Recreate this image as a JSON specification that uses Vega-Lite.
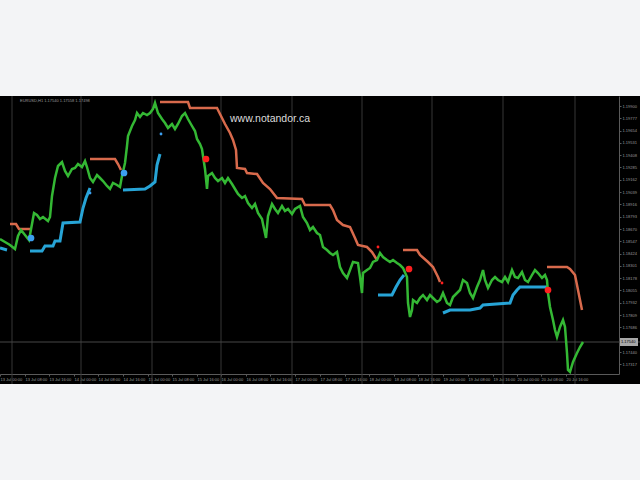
{
  "$schema": "https://vega.github.io/schema/vega-lite/v6.json",
  "autosize": {"type": "none"},
  "width": 640,
  "height": 288,
  "padding": {"left": 0, "top": 96, "right": 0, "bottom": 96},
  "background": "#f3f4f6",
  "view": {"fill": "#000000", "stroke": null},
  "config": {
    "font": "Liberation Sans",
    "axis": {"labelOverlap": false, "labelFlush": false, "labelFontSize": 4, "labelColor": "#9a9a9a", "labelPadding": 1, "domainColor": "#5a5a5a", "tickColor": "#5a5a5a", "tickSize": 2, "grid": false, "title": null}
  },
  "datasets": {
    "close": [
      {"bar":0,"price":1.1857},{"bar":5,"price":1.1854},{"bar":10,"price":1.1851},{"bar":15,"price":1.1847},{"bar":18,"price":1.1860},{"bar":21,"price":1.1866},{"bar":25,"price":1.1861},{"bar":29,"price":1.1856},{"bar":32,"price":1.1872},{"bar":34,"price":1.1883},{"bar":37,"price":1.1881},{"bar":40,"price":1.1877},{"bar":43,"price":1.1879},{"bar":48,"price":1.1875},{"bar":50,"price":1.1879},{"bar":52,"price":1.1900},{"bar":55,"price":1.1918},{"bar":58,"price":1.1930},{"bar":62,"price":1.1934},{"bar":65,"price":1.1925},{"bar":68,"price":1.1920},{"bar":72,"price":1.1927},{"bar":75,"price":1.1928},{"bar":78,"price":1.1932},{"bar":82,"price":1.1929},{"bar":85,"price":1.1935},{"bar":87,"price":1.1929},{"bar":90,"price":1.1918},{"bar":93,"price":1.1914},{"bar":97,"price":1.1921},{"bar":100,"price":1.1918},{"bar":103,"price":1.1915},{"bar":107,"price":1.1910},{"bar":110,"price":1.1907},{"bar":113,"price":1.1913},{"bar":117,"price":1.1911},{"bar":120,"price":1.1909},{"bar":122,"price":1.1920},{"bar":125,"price":1.1933},{"bar":127,"price":1.1950},{"bar":128,"price":1.1960},{"bar":132,"price":1.1970},{"bar":135,"price":1.1976},{"bar":137,"price":1.1983},{"bar":140,"price":1.1979},{"bar":143,"price":1.1983},{"bar":147,"price":1.1981},{"bar":150,"price":1.1983},{"bar":153,"price":1.1987},{"bar":155,"price":1.1993},{"bar":158,"price":1.1983},{"bar":162,"price":1.1977},{"bar":165,"price":1.1973},{"bar":168,"price":1.1968},{"bar":172,"price":1.1972},{"bar":175,"price":1.1967},{"bar":178,"price":1.1972},{"bar":182,"price":1.1980},{"bar":185,"price":1.1983},{"bar":188,"price":1.1977},{"bar":192,"price":1.1970},{"bar":195,"price":1.1965},{"bar":197,"price":1.1957},{"bar":200,"price":1.1952},{"bar":202,"price":1.1947},{"bar":203,"price":1.1940},{"bar":205,"price":1.1927},{"bar":207,"price":1.1907},{"bar":208,"price":1.1920},{"bar":212,"price":1.1923},{"bar":215,"price":1.1918},{"bar":218,"price":1.1915},{"bar":222,"price":1.1918},{"bar":225,"price":1.1913},{"bar":228,"price":1.1918},{"bar":232,"price":1.1912},{"bar":235,"price":1.1907},{"bar":238,"price":1.1902},{"bar":242,"price":1.1898},{"bar":245,"price":1.1900},{"bar":248,"price":1.1893},{"bar":252,"price":1.1888},{"bar":255,"price":1.1892},{"bar":258,"price":1.1883},{"bar":262,"price":1.1877},{"bar":263,"price":1.1872},{"bar":266,"price":1.1858},{"bar":268,"price":1.1880},{"bar":272,"price":1.1892},{"bar":275,"price":1.1887},{"bar":278,"price":1.1883},{"bar":282,"price":1.1890},{"bar":285,"price":1.1885},{"bar":288,"price":1.1887},{"bar":292,"price":1.1882},{"bar":295,"price":1.1887},{"bar":300,"price":1.1890},{"bar":303,"price":1.1879},{"bar":307,"price":1.1873},{"bar":310,"price":1.1866},{"bar":313,"price":1.1869},{"bar":317,"price":1.1863},{"bar":320,"price":1.1861},{"bar":323,"price":1.1849},{"bar":327,"price":1.1846},{"bar":330,"price":1.1843},{"bar":333,"price":1.1841},{"bar":337,"price":1.1844},{"bar":340,"price":1.1829},{"bar":343,"price":1.1823},{"bar":347,"price":1.1818},{"bar":350,"price":1.1826},{"bar":353,"price":1.1834},{"bar":358,"price":1.1833},{"bar":360,"price":1.1819},{"bar":362,"price":1.1803},{"bar":363,"price":1.1823},{"bar":367,"price":1.1826},{"bar":370,"price":1.1828},{"bar":373,"price":1.1834},{"bar":377,"price":1.1836},{"bar":380,"price":1.1843},{"bar":383,"price":1.1839},{"bar":387,"price":1.1836},{"bar":390,"price":1.1834},{"bar":393,"price":1.1836},{"bar":397,"price":1.1833},{"bar":400,"price":1.1831},{"bar":403,"price":1.1828},{"bar":407,"price":1.1819},{"bar":408,"price":1.1793},{"bar":410,"price":1.1779},{"bar":412,"price":1.1786},{"bar":413,"price":1.1796},{"bar":417,"price":1.1793},{"bar":420,"price":1.1798},{"bar":423,"price":1.1801},{"bar":427,"price":1.1796},{"bar":430,"price":1.1801},{"bar":433,"price":1.1798},{"bar":437,"price":1.1794},{"bar":440,"price":1.1796},{"bar":443,"price":1.1803},{"bar":447,"price":1.1793},{"bar":450,"price":1.1791},{"bar":453,"price":1.1799},{"bar":457,"price":1.1803},{"bar":460,"price":1.1806},{"bar":463,"price":1.1816},{"bar":467,"price":1.1813},{"bar":470,"price":1.1803},{"bar":473,"price":1.1798},{"bar":477,"price":1.1809},{"bar":480,"price":1.1816},{"bar":483,"price":1.1826},{"bar":485,"price":1.1816},{"bar":488,"price":1.1808},{"bar":492,"price":1.1816},{"bar":495,"price":1.1819},{"bar":498,"price":1.1816},{"bar":502,"price":1.1814},{"bar":505,"price":1.1819},{"bar":508,"price":1.1814},{"bar":512,"price":1.1826},{"bar":515,"price":1.1819},{"bar":518,"price":1.1818},{"bar":522,"price":1.1824},{"bar":525,"price":1.1816},{"bar":528,"price":1.1814},{"bar":532,"price":1.1821},{"bar":535,"price":1.1826},{"bar":538,"price":1.1823},{"bar":542,"price":1.1818},{"bar":545,"price":1.1821},{"bar":547,"price":1.1816},{"bar":548,"price":1.1803},{"bar":550,"price":1.1789},{"bar":553,"price":1.1776},{"bar":555,"price":1.1766},{"bar":557,"price":1.1759},{"bar":560,"price":1.1769},{"bar":563,"price":1.1776},{"bar":565,"price":1.1769},{"bar":567,"price":1.1743},{"bar":568,"price":1.1726},{"bar":570,"price":1.1724},{"bar":573,"price":1.1734},{"bar":577,"price":1.1743},{"bar":580,"price":1.1749},{"bar":583,"price":1.1754}
    ],
    "upper": [
      {"seg":1,"bar":10,"price":1.1872},{"seg":1,"bar":16,"price":1.1872},{"seg":1,"bar":19,"price":1.1867},{"seg":1,"bar":30,"price":1.1867},
      {"seg":2,"bar":90,"price":1.1937},{"seg":2,"bar":115,"price":1.1937},{"seg":2,"bar":118,"price":1.1932},{"seg":2,"bar":121,"price":1.1926},
      {"seg":3,"bar":160,"price":1.1994},{"seg":3,"bar":188,"price":1.1994},{"seg":3,"bar":190,"price":1.1988},{"seg":3,"bar":217,"price":1.1988},{"seg":3,"bar":220,"price":1.1982},{"seg":3,"bar":225,"price":1.1972},{"seg":3,"bar":230,"price":1.1963},{"seg":3,"bar":233,"price":1.1956},{"seg":3,"bar":236,"price":1.1946},{"seg":3,"bar":237,"price":1.1928},{"seg":3,"bar":245,"price":1.1927},{"seg":3,"bar":247,"price":1.1923},{"seg":3,"bar":257,"price":1.1922},{"seg":3,"bar":263,"price":1.1913},{"seg":3,"bar":270,"price":1.1907},{"seg":3,"bar":277,"price":1.1898},{"seg":3,"bar":302,"price":1.1897},{"seg":3,"bar":305,"price":1.1891},{"seg":3,"bar":330,"price":1.1891},{"seg":3,"bar":333,"price":1.1886},{"seg":3,"bar":337,"price":1.1876},{"seg":3,"bar":343,"price":1.1871},{"seg":3,"bar":350,"price":1.1869},{"seg":3,"bar":355,"price":1.1858},{"seg":3,"bar":358,"price":1.1851},{"seg":3,"bar":367,"price":1.1849},{"seg":3,"bar":372,"price":1.1844},{"seg":3,"bar":377,"price":1.1836},
      {"seg":4,"bar":403,"price":1.1846},{"seg":4,"bar":417,"price":1.1846},{"seg":4,"bar":420,"price":1.1841},{"seg":4,"bar":428,"price":1.1834},{"seg":4,"bar":433,"price":1.1829},{"seg":4,"bar":438,"price":1.1819},{"seg":4,"bar":440,"price":1.1814},
      {"seg":5,"bar":547,"price":1.1829},{"seg":5,"bar":567,"price":1.1829},{"seg":5,"bar":570,"price":1.1827},{"seg":5,"bar":575,"price":1.1821},{"seg":5,"bar":578,"price":1.1806},{"seg":5,"bar":582,"price":1.1786}
    ],
    "lower": [
      {"seg":1,"bar":0,"price":1.1848},{"seg":1,"bar":7,"price":1.1846},
      {"seg":2,"bar":30,"price":1.1845},{"seg":2,"bar":42,"price":1.1845},{"seg":2,"bar":45,"price":1.1850},{"seg":2,"bar":53,"price":1.1850},{"seg":2,"bar":55,"price":1.1855},{"seg":2,"bar":60,"price":1.1855},{"seg":2,"bar":63,"price":1.1873},{"seg":2,"bar":80,"price":1.1874},{"seg":2,"bar":83,"price":1.1888},{"seg":2,"bar":86,"price":1.1898},{"seg":2,"bar":90,"price":1.1908},
      {"seg":3,"bar":123,"price":1.1906},{"seg":3,"bar":145,"price":1.1907},{"seg":3,"bar":150,"price":1.1910},{"seg":3,"bar":155,"price":1.1914},{"seg":3,"bar":157,"price":1.1931},{"seg":3,"bar":160,"price":1.1942},
      {"seg":4,"bar":378,"price":1.1801},{"seg":4,"bar":392,"price":1.1801},{"seg":4,"bar":396,"price":1.1809},{"seg":4,"bar":400,"price":1.1816},{"seg":4,"bar":404,"price":1.1821},
      {"seg":5,"bar":443,"price":1.1783},{"seg":5,"bar":450,"price":1.1786},{"seg":5,"bar":470,"price":1.1786},{"seg":5,"bar":480,"price":1.1788},{"seg":5,"bar":483,"price":1.1791},{"seg":5,"bar":510,"price":1.1793},{"seg":5,"bar":513,"price":1.1801},{"seg":5,"bar":517,"price":1.1806},{"seg":5,"bar":520,"price":1.1809},{"seg":5,"bar":547,"price":1.1809}
    ],
    "signals": [
      {"bar":31,"price":1.1858,"side":"buy","strength":"big"},
      {"bar":124,"price":1.1923,"side":"buy","strength":"big"},
      {"bar":90,"price":1.1903,"side":"buy","strength":"small"},
      {"bar":161,"price":1.1962,"side":"buy","strength":"small"},
      {"bar":206,"price":1.1937,"side":"sell","strength":"big"},
      {"bar":409,"price":1.1827,"side":"sell","strength":"big"},
      {"bar":548,"price":1.1806,"side":"sell","strength":"big"},
      {"bar":378,"price":1.1849,"side":"sell","strength":"small"},
      {"bar":442,"price":1.1813,"side":"sell","strength":"small"}
    ],
    "grid": [{"bar":12},{"bar":81},{"bar":152},{"bar":221},{"bar":292},{"bar":362},{"bar":432},{"bar":503},{"bar":575}],
    "current": [{"price":1.1754,"label":"1.17540"}]
  },
  "layer": [
    {
      "data": {"name": "grid"},
      "mark": {"type": "rule", "color": "#363636", "strokeWidth": 1},
      "encoding": {
        "x": {"field": "bar", "type": "quantitative", "scale": {"domain": [0, 619], "range": [0, 619], "nice": false, "zero": false}, "axis": {"orient": "bottom", "offset": -10, "labelOverlap": false, "values": [0,25,49,74,98,123,148,172,197,221,246,270,295,320,345,369,394,418,443,468,493,517,541,566], "labelExpr": "(13 + floor(round(datum.value / 24.6) / 3)) + ' Jul ' + ['00:00','08:00','16:00'][round(datum.value / 24.6) % 3]", "labelAlign": "left"}}
      }
    },
    {
      "data": {"name": "current"},
      "mark": {"type": "rule", "color": "#464646", "strokeWidth": 1},
      "encoding": {
        "y": {"field": "price", "type": "quantitative", "scale": {"domain": [1.1722, 1.2], "range": [278, 0], "nice": false, "zero": false}, "axis": {"orient": "right", "offset": -21, "labelOverlap": false, "values": [1.199,1.19777,1.19654,1.19531,1.19408,1.19285,1.19162,1.19039,1.18916,1.18793,1.1867,1.18547,1.18424,1.18301,1.18178,1.18055,1.17932,1.17809,1.17686,1.1744,1.17317], "format": ".5f"}}
      }
    },
    {
      "data": {"name": "upper"},
      "mark": {"type": "line", "color": "#d86a4c", "strokeWidth": 2.5},
      "encoding": {
        "x": {"field": "bar", "type": "quantitative", "scale": {"domain": [0, 619], "range": [0, 619], "nice": false, "zero": false}, "axis": {"orient": "bottom", "offset": -10, "labelOverlap": false, "values": [0,25,49,74,98,123,148,172,197,221,246,270,295,320,345,369,394,418,443,468,493,517,541,566], "labelExpr": "(13 + floor(round(datum.value / 24.6) / 3)) + ' Jul ' + ['00:00','08:00','16:00'][round(datum.value / 24.6) % 3]", "labelAlign": "left"}},
        "y": {"field": "price", "type": "quantitative", "scale": {"domain": [1.1722, 1.2], "range": [278, 0], "nice": false, "zero": false}, "axis": {"orient": "right", "offset": -21, "labelOverlap": false, "values": [1.199,1.19777,1.19654,1.19531,1.19408,1.19285,1.19162,1.19039,1.18916,1.18793,1.1867,1.18547,1.18424,1.18301,1.18178,1.18055,1.17932,1.17809,1.17686,1.1744,1.17317], "format": ".5f"}},
        "detail": {"field": "seg"}
      }
    },
    {
      "data": {"name": "lower"},
      "mark": {"type": "line", "color": "#27a4d6", "strokeWidth": 3},
      "encoding": {
        "x": {"field": "bar", "type": "quantitative", "scale": {"domain": [0, 619], "range": [0, 619], "nice": false, "zero": false}, "axis": {"orient": "bottom", "offset": -10, "labelOverlap": false, "values": [0,25,49,74,98,123,148,172,197,221,246,270,295,320,345,369,394,418,443,468,493,517,541,566], "labelExpr": "(13 + floor(round(datum.value / 24.6) / 3)) + ' Jul ' + ['00:00','08:00','16:00'][round(datum.value / 24.6) % 3]", "labelAlign": "left"}},
        "y": {"field": "price", "type": "quantitative", "scale": {"domain": [1.1722, 1.2], "range": [278, 0], "nice": false, "zero": false}, "axis": {"orient": "right", "offset": -21, "labelOverlap": false, "values": [1.199,1.19777,1.19654,1.19531,1.19408,1.19285,1.19162,1.19039,1.18916,1.18793,1.1867,1.18547,1.18424,1.18301,1.18178,1.18055,1.17932,1.17809,1.17686,1.1744,1.17317], "format": ".5f"}},
        "detail": {"field": "seg"}
      }
    },
    {
      "data": {"name": "close"},
      "mark": {"type": "line", "color": "#34b834", "strokeWidth": 2.5},
      "encoding": {
        "x": {"field": "bar", "type": "quantitative", "scale": {"domain": [0, 619], "range": [0, 619], "nice": false, "zero": false}, "axis": {"orient": "bottom", "offset": -10, "labelOverlap": false, "values": [0,25,49,74,98,123,148,172,197,221,246,270,295,320,345,369,394,418,443,468,493,517,541,566], "labelExpr": "(13 + floor(round(datum.value / 24.6) / 3)) + ' Jul ' + ['00:00','08:00','16:00'][round(datum.value / 24.6) % 3]", "labelAlign": "left"}},
        "y": {"field": "price", "type": "quantitative", "scale": {"domain": [1.1722, 1.2], "range": [278, 0], "nice": false, "zero": false}, "axis": {"orient": "right", "offset": -21, "labelOverlap": false, "values": [1.199,1.19777,1.19654,1.19531,1.19408,1.19285,1.19162,1.19039,1.18916,1.18793,1.1867,1.18547,1.18424,1.18301,1.18178,1.18055,1.17932,1.17809,1.17686,1.1744,1.17317], "format": ".5f"}}
      }
    },
    {
      "data": {"name": "signals"},
      "mark": {"type": "point", "filled": true, "opacity": 1},
      "encoding": {
        "x": {"field": "bar", "type": "quantitative", "scale": {"domain": [0, 619], "range": [0, 619], "nice": false, "zero": false}, "axis": {"orient": "bottom", "offset": -10, "labelOverlap": false, "values": [0,25,49,74,98,123,148,172,197,221,246,270,295,320,345,369,394,418,443,468,493,517,541,566], "labelExpr": "(13 + floor(round(datum.value / 24.6) / 3)) + ' Jul ' + ['00:00','08:00','16:00'][round(datum.value / 24.6) % 3]", "labelAlign": "left"}},
        "y": {"field": "price", "type": "quantitative", "scale": {"domain": [1.1722, 1.2], "range": [278, 0], "nice": false, "zero": false}, "axis": {"orient": "right", "offset": -21, "labelOverlap": false, "values": [1.199,1.19777,1.19654,1.19531,1.19408,1.19285,1.19162,1.19039,1.18916,1.18793,1.1867,1.18547,1.18424,1.18301,1.18178,1.18055,1.17932,1.17809,1.17686,1.1744,1.17317], "format": ".5f"}},
        "color": {"field": "side", "type": "nominal", "scale": {"domain": ["buy", "sell"], "range": ["#3c9ff0", "#ff1f1f"]}, "legend": null},
        "size": {"field": "strength", "type": "nominal", "scale": {"domain": ["small", "big"], "range": [8, 45]}, "legend": null}
      }
    },
    {
      "data": {"name": "current"},
      "mark": {"type": "text", "text": "www.notandor.ca", "align": "left", "baseline": "middle", "fontSize": 10.5, "color": "#dcdcdc"},
      "encoding": {
        "x": {"datum": 230, "type": "quantitative", "scale": {"domain": [0, 619], "range": [0, 619], "nice": false, "zero": false}, "axis": {"orient": "bottom", "offset": -10, "labelOverlap": false, "values": [0,25,49,74,98,123,148,172,197,221,246,270,295,320,345,369,394,418,443,468,493,517,541,566], "labelExpr": "(13 + floor(round(datum.value / 24.6) / 3)) + ' Jul ' + ['00:00','08:00','16:00'][round(datum.value / 24.6) % 3]", "labelAlign": "left"}},
        "y": {"datum": 1.1977, "type": "quantitative", "scale": {"domain": [1.1722, 1.2], "range": [278, 0], "nice": false, "zero": false}, "axis": {"orient": "right", "offset": -21, "labelOverlap": false, "values": [1.199,1.19777,1.19654,1.19531,1.19408,1.19285,1.19162,1.19039,1.18916,1.18793,1.1867,1.18547,1.18424,1.18301,1.18178,1.18055,1.17932,1.17809,1.17686,1.1744,1.17317], "format": ".5f"}}
      }
    },
    {
      "data": {"name": "current"},
      "mark": {"type": "text", "text": "EURUSD,H1  1.17540 1.17558 1.17498", "align": "left", "baseline": "middle", "fontSize": 4, "color": "#9a9a9a"},
      "encoding": {
        "x": {"datum": 20, "type": "quantitative", "scale": {"domain": [0, 619], "range": [0, 619], "nice": false, "zero": false}, "axis": {"orient": "bottom", "offset": -10, "labelOverlap": false, "values": [0,25,49,74,98,123,148,172,197,221,246,270,295,320,345,369,394,418,443,468,493,517,541,566], "labelExpr": "(13 + floor(round(datum.value / 24.6) / 3)) + ' Jul ' + ['00:00','08:00','16:00'][round(datum.value / 24.6) % 3]", "labelAlign": "left"}},
        "y": {"datum": 1.1995, "type": "quantitative", "scale": {"domain": [1.1722, 1.2], "range": [278, 0], "nice": false, "zero": false}, "axis": {"orient": "right", "offset": -21, "labelOverlap": false, "values": [1.199,1.19777,1.19654,1.19531,1.19408,1.19285,1.19162,1.19039,1.18916,1.18793,1.1867,1.18547,1.18424,1.18301,1.18178,1.18055,1.17932,1.17809,1.17686,1.1744,1.17317], "format": ".5f"}}
      }
    },
    {
      "data": {"name": "current"},
      "mark": {"type": "rect", "color": "#a8a8a8"},
      "encoding": {
        "x": {"datum": 620, "type": "quantitative", "scale": {"domain": [0, 619], "range": [0, 619], "nice": false, "zero": false}, "axis": {"orient": "bottom", "offset": -10, "labelOverlap": false, "values": [0,25,49,74,98,123,148,172,197,221,246,270,295,320,345,369,394,418,443,468,493,517,541,566], "labelExpr": "(13 + floor(round(datum.value / 24.6) / 3)) + ' Jul ' + ['00:00','08:00','16:00'][round(datum.value / 24.6) % 3]", "labelAlign": "left"}},
        "x2": {"datum": 638},
        "y": {"datum": 1.1758, "type": "quantitative", "scale": {"domain": [1.1722, 1.2], "range": [278, 0], "nice": false, "zero": false}, "axis": {"orient": "right", "offset": -21, "labelOverlap": false, "values": [1.199,1.19777,1.19654,1.19531,1.19408,1.19285,1.19162,1.19039,1.18916,1.18793,1.1867,1.18547,1.18424,1.18301,1.18178,1.18055,1.17932,1.17809,1.17686,1.1744,1.17317], "format": ".5f"}},
        "y2": {"datum": 1.175}
      }
    },
    {
      "data": {"name": "current"},
      "mark": {"type": "text", "align": "left", "baseline": "middle", "fontSize": 4, "color": "#000000"},
      "encoding": {
        "x": {"datum": 621, "type": "quantitative", "scale": {"domain": [0, 619], "range": [0, 619], "nice": false, "zero": false}, "axis": {"orient": "bottom", "offset": -10, "labelOverlap": false, "values": [0,25,49,74,98,123,148,172,197,221,246,270,295,320,345,369,394,418,443,468,493,517,541,566], "labelExpr": "(13 + floor(round(datum.value / 24.6) / 3)) + ' Jul ' + ['00:00','08:00','16:00'][round(datum.value / 24.6) % 3]", "labelAlign": "left"}},
        "y": {"field": "price", "type": "quantitative", "scale": {"domain": [1.1722, 1.2], "range": [278, 0], "nice": false, "zero": false}, "axis": {"orient": "right", "offset": -21, "labelOverlap": false, "values": [1.199,1.19777,1.19654,1.19531,1.19408,1.19285,1.19162,1.19039,1.18916,1.18793,1.1867,1.18547,1.18424,1.18301,1.18178,1.18055,1.17932,1.17809,1.17686,1.1744,1.17317], "format": ".5f"}},
        "text": {"field": "label"}
      }
    }
  ]
}
